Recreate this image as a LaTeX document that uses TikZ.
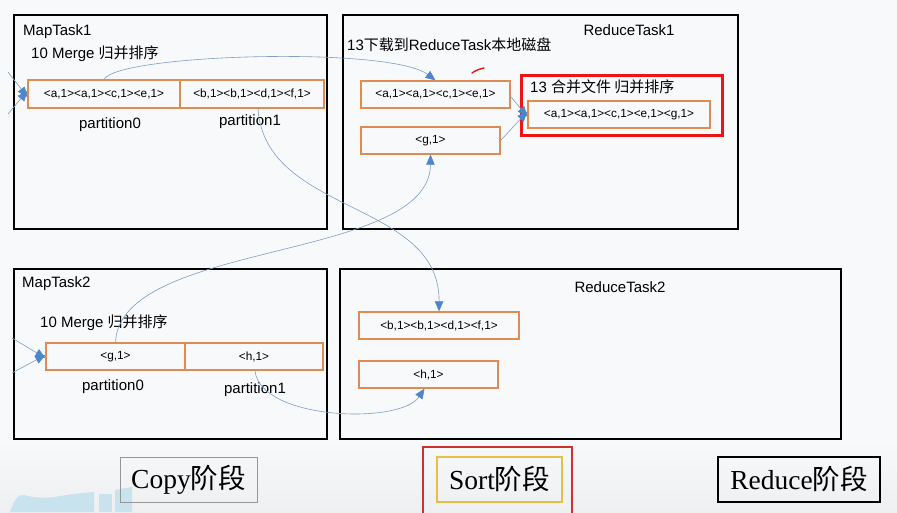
\documentclass[tikz,border=0pt]{standalone}
\usepackage{fontspec}
\setmainfont{Liberation Sans}
\newfontfamily\cjk{Noto Sans CJK SC}
\newfontfamily\serifm{Liberation Serif}
\usetikzlibrary{arrows.meta}
\definecolor{bgc}{RGB}{248,249,250}
\definecolor{orng}{RGB}{222,140,82}
\definecolor{conn}{RGB}{128,158,198}
\definecolor{tipc}{RGB}{78,134,205}
\definecolor{redb}{RGB}{236,20,20}
\definecolor{redo}{RGB}{205,50,45}
\definecolor{yelb}{RGB}{232,190,70}
\definecolor{greyb}{RGB}{150,150,150}
\definecolor{wblue}{RGB}{200,226,238}
\begin{document}
\begin{tikzpicture}[x=1pt,y=-1pt,
  frame/.style={draw=black,line width=1.8pt,inner sep=0pt},
  part/.style={draw=orng,line width=1.3pt,inner sep=0pt,font=\fontsize{11.8}{13}\selectfont},
  lbl/.style={inner sep=0pt,font=\fontsize{15}{17}\selectfont},
  plbl/.style={inner sep=0pt,font=\fontsize{15}{17}\selectfont},
  conn/.style={draw=conn,line width=0.6pt,-{Triangle[length=10pt,width=8.5pt,color=tipc]}},
  phase/.style={inner sep=0pt,font=\serifm\fontsize{27.5}{30}\selectfont}]
\useasboundingbox (0,0) rectangle (897,512);
\fill[bgc] (0,0) rectangle (897,512);
\shade[top color=bgc,bottom color={rgb,255:red,238;green,239;blue,240}] (0,440) rectangle (897,512);
% watermark shapes
\fill[wblue] (10,512) .. controls (14,500) and (18,494) .. (24,495) .. controls (32,497) and (40,499) .. (55,497) .. controls (70,494) and (82,493) .. (94,492) -- (94,512) -- cycle;
\fill[wblue] (99,494) rectangle (112,512);
\fill[wblue] (115,490) -- (132,487) -- (132,512) -- (115,512) -- cycle;

% frames
\node[frame,minimum width=313pt,minimum height=214pt] (mt1) at (170.5,122) {};
\node[frame,minimum width=395pt,minimum height=214pt] (rt1) at (540.5,122) {};
\node[frame,minimum width=313pt,minimum height=170pt] (mt2) at (170.5,354) {};
\node[frame,minimum width=501pt,minimum height=170pt] (rt2) at (590.5,354) {};

% titles
\node[lbl,anchor=west] (t1) at (23,32) {MapTask1};
\node[lbl,anchor=west] (m1) at (31,54) {10 Merge {\cjk 归并排序}};
\node[lbl] (t2) at (629,30) {ReduceTask1};
\node[lbl,anchor=west] (d1) at (347,45) {13{\cjk 下载到}ReduceTask{\cjk 本地磁盘}};
\node[lbl,anchor=west] (t3) at (22,284) {MapTask2};
\node[lbl,anchor=west] (m2) at (40,323) {10 Merge {\cjk 归并排序}};
\node[lbl] (t4) at (620,287) {ReduceTask2};

% MapTask1 partitions
\node[part,minimum width=152pt,minimum height=28pt] (p10) at (104,94) {<a,1><a,1><c,1><e,1>};
\node[part,minimum width=144pt,minimum height=28pt] (p11) at (252,94) {<b,1><b,1><d,1><f,1>};
\node[plbl] (l10) at (110,125) {partition0};
\node[plbl] (l11) at (250,122) {partition1};

% ReduceTask1
\node[part,minimum width=149pt,minimum height=27pt] (r1a) at (435.5,94.5) {<a,1><a,1><c,1><e,1>};
\node[part,minimum width=139pt,minimum height=27pt] (r1b) at (430.5,140.5) {<g,1>};
\node[draw=redb,line width=3pt,minimum width=201pt,minimum height=60pt,inner sep=0pt] (red) at (621.5,105) {};
\node[lbl,anchor=west] (mg) at (530,87) {13 {\cjk 合并文件 归并排序}};
\node[part,minimum width=182pt,minimum height=27pt] (r1c) at (619,114.5) {<a,1><a,1><c,1><e,1><g,1>};
\draw[redb,line width=1.4pt,line cap=round] (472,73) .. controls (476,70) and (480,69) .. (484,68);

% MapTask2 partitions
\node[part,minimum width=139pt,minimum height=27pt] (p20) at (115.5,356.5) {<g,1>};
\node[part,minimum width=138pt,minimum height=27pt] (p21) at (254,356.5) {<h,1>};
\node[plbl] (l20) at (113,387) {partition0};
\node[plbl] (l21) at (255,390) {partition1};

% ReduceTask2
\node[part,minimum width=160pt,minimum height=27pt] (r2a) at (439,325.5) {<b,1><b,1><d,1><f,1>};
\node[part,minimum width=139pt,minimum height=27pt] (r2b) at (428.5,374.5) {<h,1>};

% incoming free ends
\coordinate (a1) at (8,72);
\coordinate (a2) at (8,114);
\coordinate (b1) at (12,338);
\coordinate (b2) at (12,373);
\draw[conn] (a1) -- ([yshift=-3pt]p10.west);
\draw[conn] (a2) -- ([yshift=3pt]p10.west);
\draw[conn] (b1) -- ([yshift=-1.5pt]p20.west);
\draw[conn] (b2) -- ([yshift=1.5pt]p20.west);

% curves
\draw[conn] (p10.north) .. controls (118,54) and (390,46) .. (r1a.north);
\draw[conn] ([xshift=6pt]p11.south) .. controls (265,215) and (440,200) .. (r2a.north);
\draw[conn] (p20.north) .. controls (120,240) and (430,262) .. (r1b.south);
\draw[conn] ([xshift=1pt]p21.south) .. controls (260,420) and (400,425) .. ([xshift=-4pt]r2b.south);

% merge arrows
\draw[conn] ([yshift=-2pt]r1a.east) -- ([yshift=-2pt]r1c.west);
\draw[conn] (r1b.east) -- ([yshift=3pt]r1c.west);

% phases
\node[phase,draw=greyb,line width=1pt,minimum width=137pt,minimum height=45pt] (cp) at (188.5,479.5) {Copy{\cjk 阶段}};
\node[draw=redo,line width=1.3pt,minimum width=149pt,minimum height=70pt,inner sep=0pt] (so) at (497.5,482) {};
\node[phase,draw=yelb,line width=1.3pt,minimum width=125pt,minimum height=45pt] (st) at (499.5,479.5) {Sort{\cjk 阶段}};
\node[phase,draw=black,line width=1.3pt,minimum width=162pt,minimum height=45pt] (rd) at (799,479.5) {Reduce{\cjk 阶段}};
\end{tikzpicture}
\end{document}
